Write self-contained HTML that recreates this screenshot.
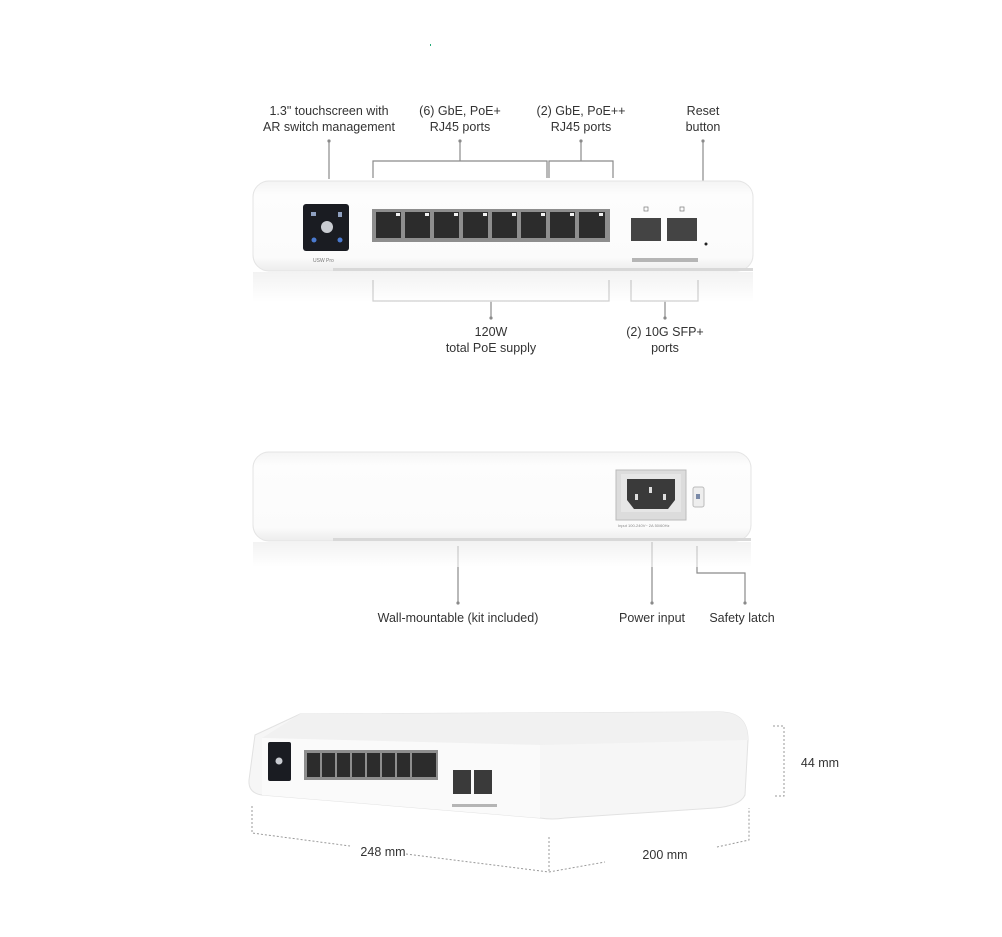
<!DOCTYPE html>
<html><head><meta charset="utf-8"><style>
html,body{margin:0;padding:0;background:#fff;}
svg{display:block;font-family:"Liberation Sans",sans-serif;}
text{font-size:12.5px;fill:#333;}
</style></head><body>
<svg width="1002" height="937" viewBox="0 0 1002 937" xmlns="http://www.w3.org/2000/svg">
<defs>
<linearGradient id="body" x1="0" y1="0" x2="0" y2="1">
<stop offset="0" stop-color="#f4f4f4"/><stop offset="0.15" stop-color="#fdfdfd"/><stop offset="0.85" stop-color="#fbfbfb"/><stop offset="1" stop-color="#ececec"/></linearGradient>
<linearGradient id="refl" x1="0" y1="0" x2="0" y2="1">
<stop offset="0" stop-color="#eaeaea"/><stop offset="1" stop-color="#fff"/></linearGradient>
</defs>

<!-- ============ TOP: front view ============ -->
<g fill="none" stroke="#8a8a8a" stroke-width="1.2">
<line x1="329" y1="141" x2="329" y2="179"/>
<polyline points="373,178 373,161 547,161 547,178"/>
<line x1="460" y1="141" x2="460" y2="161"/>
<polyline points="549,178 549,161 613,161 613,178"/>
<line x1="581" y1="141" x2="581" y2="161"/>
<line x1="703" y1="141" x2="703" y2="240"/>
<polyline points="373,280 373,301 609,301 609,280"/>
<line x1="491" y1="301" x2="491" y2="318"/>
<polyline points="631,280 631,301 698,301 698,280"/>
<line x1="665" y1="301" x2="665" y2="318"/>
</g>
<g fill="#8a8a8a"><circle cx="329" cy="141" r="1.6"/><circle cx="460" cy="141" r="1.6"/><circle cx="581" cy="141" r="1.6"/><circle cx="703" cy="141" r="1.6"/><circle cx="491" cy="318" r="1.6"/><circle cx="665" cy="318" r="1.6"/></g>
<g text-anchor="middle">
<text x="329" y="115">1.3" touchscreen with</text><text x="329" y="131">AR switch management</text>
<text x="460" y="115">(6) GbE, PoE+</text><text x="460" y="131">RJ45 ports</text>
<text x="581" y="115">(2) GbE, PoE++</text><text x="581" y="131">RJ45 ports</text>
<text x="703" y="115">Reset</text><text x="703" y="131">button</text>
<text x="491" y="336">120W</text><text x="491" y="352">total PoE supply</text>
<text x="665" y="336">(2) 10G SFP+</text><text x="665" y="352">ports</text>
</g>
<rect x="253" y="272" width="500" height="30" fill="url(#refl)" opacity="0.6"/>
<rect x="253" y="181" width="500" height="90" rx="16" fill="url(#body)" stroke="#e4e4e4"/>
<rect x="333" y="268" width="420" height="3" fill="#d8d8d8"/>
<rect x="303" y="204" width="46" height="47" rx="3" fill="#1a1c22"/>
<circle cx="327" cy="227" r="6" fill="#c9ccd2"/>
<circle cx="314" cy="240" r="2.5" fill="#4a7ad0"/><circle cx="340" cy="240" r="2.5" fill="#4a7ad0"/>
<rect x="311" y="212" width="5" height="4" fill="#8fa0c0"/><rect x="338" y="212" width="4" height="5" fill="#8fa0c0"/>
<text x="313" y="262" style="font-size:5px;fill:#777">USW Pro</text>
<rect x="372" y="209" width="238" height="33" fill="#8e8e8e"/>
<g fill="#2c2c2c">
<rect x="376" y="212" width="25" height="26"/><rect x="405" y="212" width="25" height="26"/><rect x="434" y="212" width="25" height="26"/><rect x="463" y="212" width="25" height="26"/><rect x="492" y="212" width="25" height="26"/><rect x="521" y="212" width="25" height="26"/><rect x="550" y="212" width="25" height="26"/><rect x="579" y="212" width="26" height="26"/>
</g>
<g fill="#f2f2f2"><rect x="396" y="213" width="4" height="3"/><rect x="425" y="213" width="4" height="3"/><rect x="454" y="213" width="4" height="3"/><rect x="483" y="213" width="4" height="3"/><rect x="512" y="213" width="4" height="3"/><rect x="541" y="213" width="4" height="3"/><rect x="570" y="213" width="4" height="3"/><rect x="599" y="213" width="4" height="3"/></g>
<rect x="631" y="218" width="30" height="23" fill="#444"/><rect x="667" y="218" width="30" height="23" fill="#444"/>
<rect x="644" y="207" width="4" height="4" fill="none" stroke="#777" stroke-width="0.7"/><rect x="680" y="207" width="4" height="4" fill="none" stroke="#777" stroke-width="0.7"/>
<rect x="632" y="258" width="66" height="4" fill="#b5b5b5"/>
<circle cx="706" cy="244" r="1.5" fill="#222"/>
<rect x="430" y="44" width="1" height="2" fill="#2a7"/>

<!-- ============ MIDDLE: rear view ============ -->
<g fill="none" stroke="#8a8a8a" stroke-width="1.2">
<line x1="458" y1="546" x2="458" y2="603"/>
<line x1="652" y1="542" x2="652" y2="603"/>
<polyline points="697,546 697,573 745,573 745,603"/>
</g>
<g fill="#8a8a8a"><circle cx="458" cy="603" r="1.6"/><circle cx="652" cy="603" r="1.6"/><circle cx="745" cy="603" r="1.6"/></g>
<g text-anchor="middle">
<text x="458" y="622">Wall-mountable (kit included)</text>
<text x="652" y="622">Power input</text>
<text x="742" y="622">Safety latch</text>
</g>
<rect x="253" y="542" width="498" height="25" fill="url(#refl)" opacity="0.6"/>
<rect x="253" y="452" width="498" height="89" rx="16" fill="url(#body)" stroke="#e4e4e4"/>
<rect x="333" y="538" width="418" height="3" fill="#d8d8d8"/>
<rect x="616" y="470" width="70" height="50" fill="#dcdcdc" stroke="#bbb"/>
<rect x="621" y="474" width="60" height="38" fill="#e6e6e6"/>
<path d="M627 479 H675 V500 L668 509 H634 L627 500 Z" fill="#3a3a3a"/>
<g fill="#ddd"><rect x="635" y="494" width="3" height="6"/><rect x="649" y="487" width="3" height="6"/><rect x="663" y="494" width="3" height="6"/></g>
<text x="618" y="527" style="font-size:4px;fill:#888">Input 100-240V~ 2A 50/60Hz</text>
<rect x="693" y="487" width="11" height="20" rx="2" fill="#eee" stroke="#bbb"/>
<rect x="696" y="494" width="4" height="5" fill="#7a8aa8"/>

<!-- ============ BOTTOM: isometric ============ -->
<path d="M255 735 L300 714 L720 712 Q748 712 748 740 L745 795 Q740 806 715 808 L565 818 Q552 820 540 818 L262 795 Q248 793 249 780 Z" fill="#f6f6f6" stroke="#e2e2e2"/>
<path d="M300 714 L720 712 Q748 712 748 740 L540 745 L262 738 Z" fill="#f1f1f1"/>
<path d="M262 738 L540 745 L540 818 L262 795 Z" fill="#fafafa"/>
<rect x="268" y="742" width="23" height="39" rx="2" fill="#1a1c22"/>
<circle cx="279" cy="761" r="3.5" fill="#c9ccd2"/>
<rect x="304" y="750" width="134" height="30" fill="#8e8e8e"/>
<g fill="#2c2c2c"><rect x="307" y="753" width="13" height="24"/><rect x="322" y="753" width="13" height="24"/><rect x="337" y="753" width="13" height="24"/><rect x="352" y="753" width="13" height="24"/><rect x="367" y="753" width="13" height="24"/><rect x="382" y="753" width="13" height="24"/><rect x="397" y="753" width="13" height="24"/><rect x="412" y="753" width="24" height="24"/></g>
<rect x="453" y="770" width="18" height="24" fill="#3a3a3a"/><rect x="474" y="770" width="18" height="24" fill="#3a3a3a"/>
<rect x="452" y="804" width="45" height="3" fill="#b5b5b5"/>
<g fill="none" stroke="#999" stroke-width="1" stroke-dasharray="2,2">
<polyline points="773,726 784,726 784,796 773,796"/>
<polyline points="252,806 252,833 350,846"/>
<line x1="406" y1="854" x2="549" y2="872"/>
<line x1="549" y1="837" x2="549" y2="872"/>
<line x1="549" y1="872" x2="605" y2="862"/>
<polyline points="717,847 749,840 749,808"/>
</g>
<g text-anchor="middle">
<text x="820" y="767">44 mm</text>
<text x="383" y="856">248 mm</text>
<text x="665" y="859">200 mm</text>
</g>
</svg>
</body></html>
